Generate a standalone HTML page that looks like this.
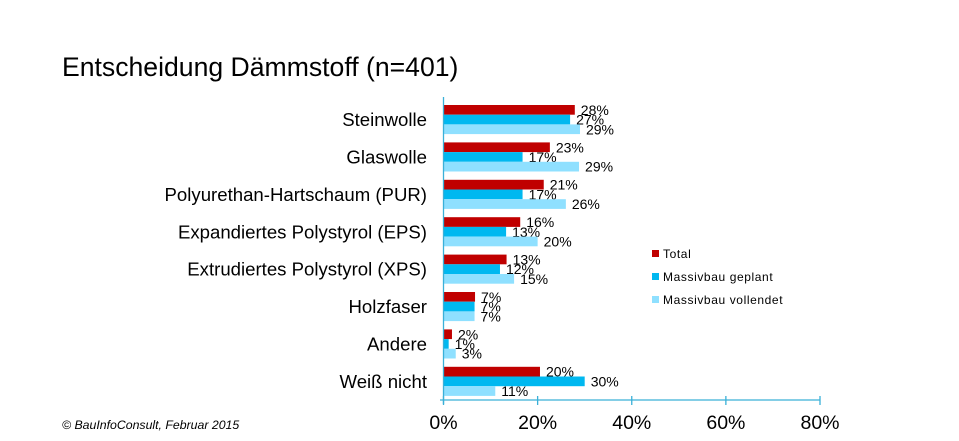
<!DOCTYPE html>
<html><head><meta charset="utf-8"><style>
body{margin:0;background:#fff;width:959px;height:436px;overflow:hidden;font-family:"Liberation Sans",sans-serif}
</style></head><body>
<svg id="c" width="959" height="436" xmlns="http://www.w3.org/2000/svg">
<text x="62" y="76" font-size="26.6" fill="#000">Entscheidung Dämmstoff (n=401)</text>
<text x="62" y="429" font-size="12.3" font-style="italic" fill="#000">© BauInfoConsult, Februar 2015</text>
<g id="plot"></g>
</svg>
<script>
const categories=["Steinwolle","Glaswolle","Polyurethan-Hartschaum (PUR)","Expandiertes Polystyrol (EPS)","Extrudiertes Polystyrol (XPS)","Holzfaser","Andere","Weiß nicht"];
const seriesNames=["Total","Massivbau geplant","Massivbau vollendet"];
const total=[27.9,22.6,21.3,16.3,13.4,6.7,1.8,20.5];
const geplant=[26.9,16.8,16.8,13.3,12.0,6.6,1.1,30.0];
const vollendet=[29.0,28.8,26.0,20.0,15.0,6.6,2.6,11.0];
const totalLabels=["28%","23%","21%","16%","13%","7%","2%","20%"];
const geplantLabels=["27%","17%","17%","13%","12%","7%","1%","30%"];
const vollendetLabels=["29%","29%","26%","20%","15%","7%","3%","11%"];
const ticks=[0,20,40,60,80];
const colors=["#c00000","#00b8f0","#8fe0ff"];
const NS="http://www.w3.org/2000/svg";
const x0=443.5,pxPer=(820-443.5)/80;
const xs=v=>x0+v*pxPer;
const gTop=105,gStep=37.4,bh=9.7;
const g=document.getElementById('plot');
function mk(t,a){const e=document.createElementNS(NS,t);for(const k in a)e.setAttribute(k,a[k]);g.appendChild(e);return e;}
const series=[total,geplant,vollendet],labs=[totalLabels,geplantLabels,vollendetLabels];
categories.forEach((c,i)=>{
  const y=gTop+i*gStep;
  const t=mk('text',{x:427,y:y+bh*1.5+6.5,'font-size':18.6,'text-anchor':'end',fill:'#000'});
  t.textContent=c;
  
  
  series.forEach((s,j)=>{
    const by=y+j*bh;
    const r=mk('rect',{x:x0,y:by,width:xs(s[i])-x0,height:bh,fill:colors[j]});
    
    
    const l=mk('text',{x:xs(s[i])+6,y:by+bh/2+5,'font-size':14,fill:'#000'});
    l.textContent=labs[j][i];
    
    
  });
});
const ax=mk('line',{x1:x0,y1:97,x2:x0,y2:404,stroke:'#3ab0d8','stroke-width':1.3});


const bx=mk('line',{x1:440,y1:400,x2:xs(80),y2:400,stroke:'#3ab0d8','stroke-width':1.3});


ticks.forEach(v=>{
  const tk=mk('line',{x1:xs(v),y1:396,x2:xs(v),y2:405,stroke:'#3ab0d8','stroke-width':1.3});
  
  
  const tl=mk('text',{x:xs(v),y:429,'font-size':19.5,'text-anchor':'middle',fill:'#000'});
  tl.textContent=v+'%';
  
  
});
seriesNames.forEach((n,j)=>{
  const y=254+j*23;
  const sw=mk('rect',{x:652,y:y-4,width:7,height:7,fill:colors[j]});
  
  
  const lt=mk('text',{x:663,y:y+4,'font-size':12,'letter-spacing':'0.6',fill:'#000'});
  lt.textContent=n;
  
  
});
</script>
</body></html>
